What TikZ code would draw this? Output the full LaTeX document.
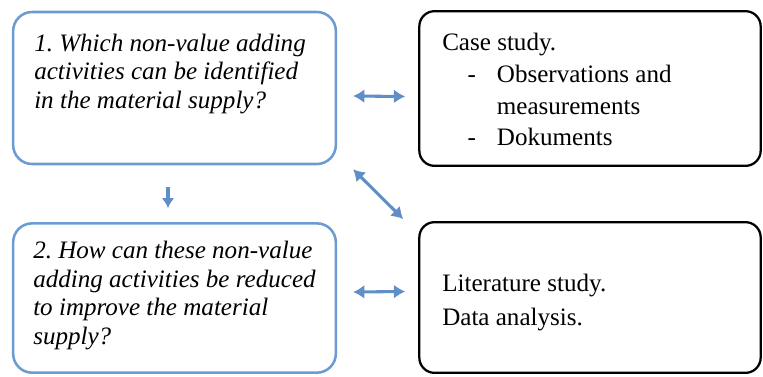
\documentclass[tikz,border=0pt]{standalone}
\usepackage{fontspec}
\setmainfont{Liberation Serif}
\usetikzlibrary{positioning,arrows.meta}
\definecolor{qblue}{RGB}{108,155,210}
\definecolor{linkblue}{RGB}{96,142,199}
\newcommand{\itemdash}{\makebox[41pt][l]{\hspace*{19pt}-}}
\frenchspacing

\begin{document}
\begin{tikzpicture}[x=0.75pt, y=-0.75pt]
    \tikzstyle{question} = [draw=qblue, line width=1.9pt, rectangle, rounded corners=5mm, minimum width=242pt, minimum height=114pt]
    \tikzstyle{method} = [draw=black, line width=1.7pt, rectangle, rounded corners=4mm, minimum width=256pt, minimum height=116pt]
    \tikzstyle{boxtext} = [anchor=north west, inner sep=0pt, align=left, font=\fontsize{18.8}{21.4}\selectfont]
    \tikzstyle{link} = [linkblue, line width=2.3pt, {Latex[length=8.5pt,width=10.5pt]}-{Latex[length=8.5pt,width=10.5pt]}]
    \tikzstyle{next} = [linkblue, line width=2.4pt, -{Latex[length=7.5pt,width=9.5pt]}]

    \useasboundingbox (0,0) rectangle (763,376);

    \node[question] (q1) at (174.5,88) {};
    \node[question, minimum height=112pt] (q2) at (174.5,298) {};
    \node[method] (case) at (590,88.5) {};
    \node[method, minimum height=113pt] (lit) at (590,297.5) {};

    \node[boxtext, font=\fontsize{18.8}{21.6}\selectfont\itshape] (q1text) at (34,33.5) {1. Which non-value adding\\activities can be identified\\in the material supply?};
    \node[boxtext, font=\fontsize{18.8}{21.4}\selectfont\itshape] (q2text) at (33,241) {2. How can these non-value\\adding activities be reduced\\to improve the material\\supply?};
    \node[boxtext] (casetext) at (442,32.5) {Case study.\\[3.2pt]\itemdash Observations and\\[1.9pt]\hspace*{41pt}measurements\\[1.9pt]\itemdash Dokuments};
    \node[boxtext] (littext) at (442,274) {Literature study.\\[3.8pt]Data analysis.};

    \draw[link] ([shift={(16,8)}]q1.east) -- ([shift={(-13,8)}]case.west);
    \draw[link] ([shift={(16,4)}]q1.south east) -- ([shift={(-15,-2)}]lit.north west);
    \draw[link] ([shift={(16,-6)}]q2.east) -- ([shift={(-13,-6)}]lit.west);
    \draw[next] ([shift={(-6.5,22)}]q1.south) -- ([shift={(-6.5,-14)}]q2.north);
\end{tikzpicture}
\end{document}
